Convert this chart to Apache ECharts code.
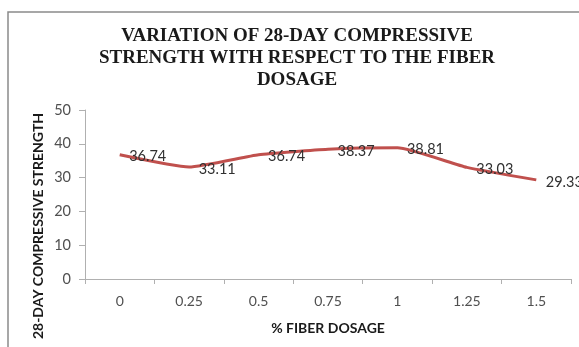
<!DOCTYPE html>
<html>
<head>
<meta charset="utf-8">
<script src="https://cdn.jsdelivr.net/npm/echarts@6/dist/echarts.min.js"></script>
<style>
  html, body { margin: 0; padding: 0; background: #fff; }
  #main { width: 579px; height: 347px; }
</style>
</head>
<body>
<div id="main"></div>
<script>
const dosages = ['0', '0.25', '0.5', '0.75', '1', '1.25', '1.5'];
const strength = [36.74, 33.11, 36.74, 38.37, 38.81, 33.03, 29.33];
const titleLines = ['VARIATION OF 28-DAY COMPRESSIVE', 'STRENGTH WITH RESPECT TO THE FIBER', 'DOSAGE'];

const chart = echarts.init(document.getElementById('main'), undefined, { renderer: 'canvas' });
const labelFont = 'Lato, "Liberation Sans", sans-serif';

chart.setOption({
  animation: false,
  backgroundColor: '#fff',
  graphic: [
    {
      type: 'rect',
      shape: { x: 8, y: 12, width: 620, height: 400 },
      style: { fill: 'none', stroke: '#8a8a8a', lineWidth: 1.5 },
      silent: true
    },
    {
      type: 'text',
      x: 297,
      y: 25,
      style: {
        text: titleLines.join('\n'),
        font: 'bold 19px "Liberation Serif", "Times New Roman", serif',
        lineHeight: 22,
        fill: '#1a1a1a',
        align: 'center'
      }
    },
    {
      type: 'text',
      x: 38,
      y: 226,
      rotation: Math.PI / 2,
      style: {
        text: '28-DAY COMPRESSIVE STRENGTH',
        font: 'bold 14px ' + labelFont,
        fill: '#1a1a1a',
        align: 'center',
        verticalAlign: 'middle'
      }
    }
  ],
  grid: { left: 85, right: 8, top: 110, bottom: 68 },
  xAxis: {
    type: 'category',
    data: dosages,
    boundaryGap: true,
    name: '% FIBER DOSAGE',
    nameLocation: 'middle',
    nameGap: 42,
    nameTextStyle: { fontFamily: labelFont, fontWeight: 'bold', fontSize: 14, color: '#1a1a1a' },
    axisLine: { lineStyle: { color: '#b0b0b0', width: 1 } },
    axisTick: { show: true, length: 5, alignWithLabel: false, lineStyle: { color: '#b0b0b0' } },
    axisLabel: { fontFamily: labelFont, fontSize: 14, color: '#505050', margin: 15 }
  },
  yAxis: {
    type: 'value',
    min: 0,
    max: 50,
    interval: 10,
    axisLine: { show: true, lineStyle: { color: '#b0b0b0', width: 1 } },
    axisTick: { show: true, length: 6, lineStyle: { color: '#b0b0b0' } },
    splitLine: { show: false },
    axisLabel: { fontFamily: labelFont, fontSize: 14.5, color: '#505050', margin: 14 }
  },
  series: [{
    type: 'line',
    data: strength,
    smooth: 0.15,
    symbol: 'circle',
    symbolSize: 1,
    showSymbol: true,
    itemStyle: { color: 'rgba(0,0,0,0)' },
    lineStyle: { color: '#c0504d', width: 3 },
    label: {
      show: true,
      position: 'right',
      distance: 9,
      offset: [0, 2],
      formatter: p => p.value.toFixed(2),
      fontFamily: labelFont,
      fontSize: 14.5,
      color: '#303030'
    }
  }]
});
</script>
</body>
</html>
